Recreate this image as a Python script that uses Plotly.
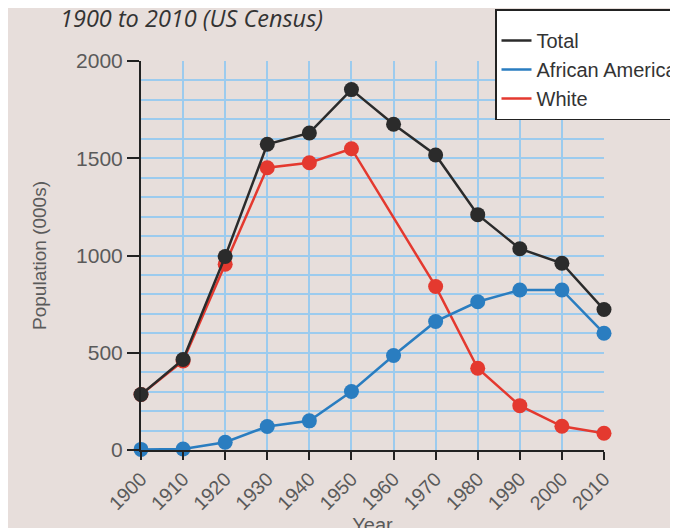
import plotly.graph_objects as go

years = [1900, 1910, 1920, 1930, 1940, 1950, 1960, 1970, 1980, 1990, 2000, 2010]
total = [285, 465, 995, 1572, 1630, 1853, 1675, 1517, 1210, 1035, 960, 722]
african_american = [3, 5, 40, 121, 150, 301, 486, 661, 762, 823, 823, 600]
white = [285, 458, 955, 1451, 1477, 1549, None, 841, 420, 228, 122, 86]

tick_vals = [0, 500, 1000, 1500, 2000]

bg = "#e7dedb"
grid = "#9ccbee"
col_total = "#2b2b2b"
col_aa = "#2a7dc0"
col_white = "#e4392f"
txt = "#5a5a5a"

fig = go.Figure()

series = [
    ("Total", total, col_total),
    ("African American", african_american, col_aa),
    ("White", white, col_white),
]

# legend-only traces (line samples, no markers)
for name, vals, col in series:
    fig.add_trace(go.Scatter(x=[None], y=[None], mode="lines", name=name,
                             line=dict(color=col, width=2.5), showlegend=True))

# data traces, drawn White first, then AA, then Total on top
for name, vals, col in [series[2], series[1], series[0]]:
    fig.add_trace(go.Scatter(x=years, y=vals, mode="lines+markers", name=name,
                             connectgaps=True, showlegend=False, cliponaxis=False,
                             line=dict(color=col, width=2.5),
                             marker=dict(color=col, size=15)))

# the page adds an 8px body margin, so positions are shifted by 8px up/left
fig.update_layout(
    width=678, height=528,
    paper_bgcolor=bg, plot_bgcolor=bg,
    margin=dict(l=133, r=82, t=53, b=86, autoexpand=False),
    font=dict(family="Liberation Sans, Arial, sans-serif", color=txt, size=20),
    showlegend=True,
    legend=dict(xref="container", yref="container", x=487/678, y=1 - 1/528,
                xanchor="left", yanchor="top",
                bgcolor="white", bordercolor="#222222", borderwidth=1.5,
                font=dict(size=20, color="#333333"), itemwidth=30,
                title=dict(text=" ", font=dict(size=8)),
                tracegroupgap=0, traceorder="normal"),
    title=dict(text="<i>1900 to 2010 (US Census)</i>", xref="container", yref="container",
               x=52/678, y=1 - 11/528, xanchor="left", yanchor="middle",
               font=dict(family="Open Sans, sans-serif", size=23.5, color="#333333")),
)

fig.update_xaxes(range=[1900, 2010], tickvals=years, ticktext=[str(y) for y in years],
                 tickangle=-45, ticks="outside", ticklen=8, tickcolor="#222222", tickwidth=1.5,
                 showline=True, linecolor="#222222", linewidth=2,
                 showgrid=True, gridcolor=grid, gridwidth=1.5, zeroline=False,
                 title=dict(text="Year", standoff=0, font=dict(size=20, color=txt)),
                 tickfont=dict(size=19.5, color=txt))
fig.update_yaxes(range=[0, 2000], tickvals=tick_vals, ticks="outside", ticklen=12,
                 tickcolor="#222222", tickwidth=1.5, showline=True, linecolor="#222222", linewidth=2,
                 showgrid=True, gridcolor=grid, gridwidth=1.5, zeroline=False,
                 minor=dict(dtick=100, showgrid=True, gridcolor=grid, gridwidth=1.5, ticks=""),
                 title=dict(text="Population (000s)", standoff=24, font=dict(size=19, color=txt)),
                 tickfont=dict(size=21, color=txt))

fig.write_html("out.html")
